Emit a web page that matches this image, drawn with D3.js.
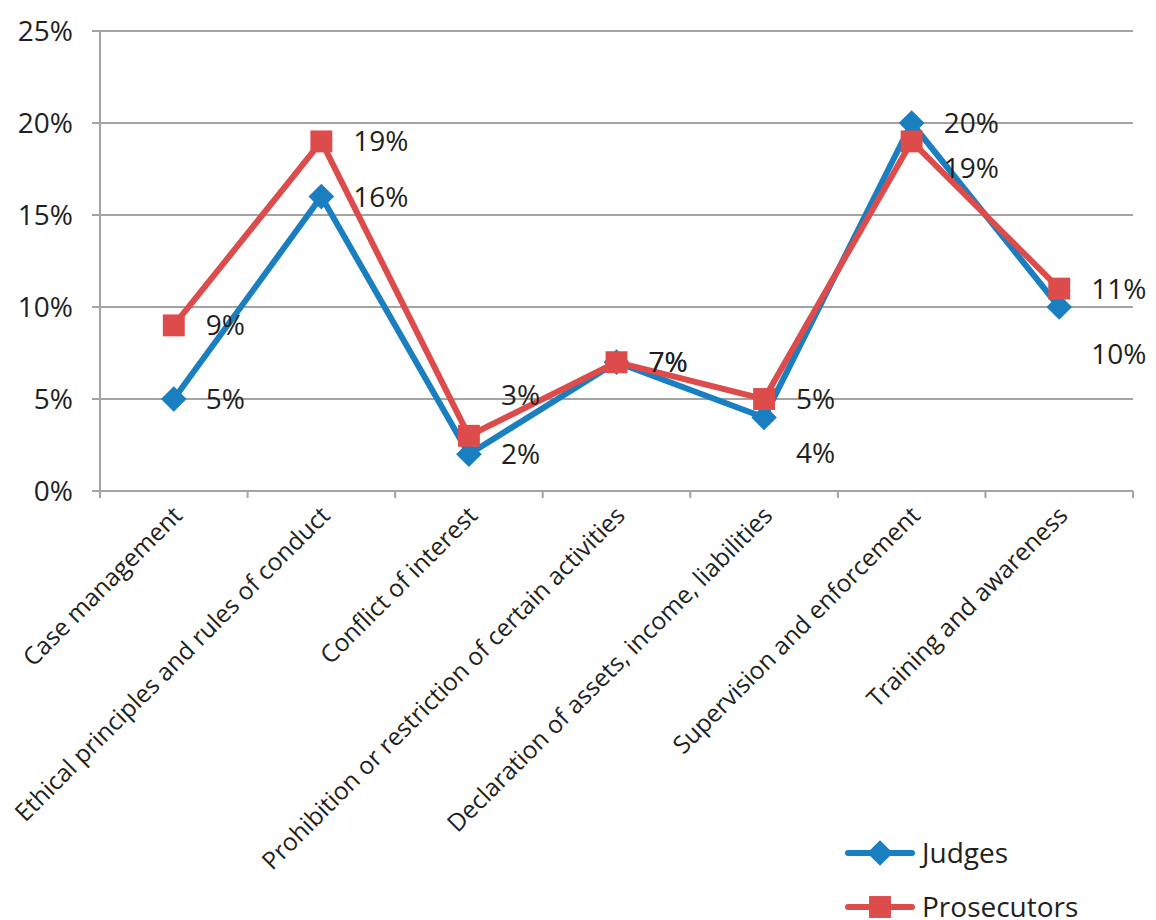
<!DOCTYPE html>
<html>
<head>
<meta charset="utf-8">
<script src="https://cdn.jsdelivr.net/npm/d3@7"></script>
<style>
  body { margin: 0; background: #fff; }
  text { font-family: "Open Sans", "Noto Sans", sans-serif; fill: #231f20; }
</style>
</head>
<body>
<svg id="chart"></svg>
<script>
// categories and values (percent)
const categories = [
    'Case management',
    'Ethical principles and rules of conduct',
    'Conflict of interest',
    'Prohibition or restriction of certain activities',
    'Declaration of assets, income, liabilities',
    'Supervision and enforcement',
    'Training and awareness'
];
const judges = [5, 16, 2, 7, 4, 20, 10];
const prosecutors = [9, 19, 3, 7, 5, 19, 11];
const yTicks = [0, 5, 10, 15, 20, 25];

// vertical nudges for the value labels, so they don't collide
const judgesNudge = [0, 0, 0, 0, 36, 0, 47];
const prosecutorsNudge = [0, 0, -41, 0, 0, 27, 0];

const width = 1156, height = 920;
const margin = { top: 31, right: 23, bottom: 429, left: 100 };
const plotW = width - margin.left - margin.right,
    plotH = height - margin.top - margin.bottom;

const blue = '#1a7fc1', red = '#dd4b4b', grid = '#a3a3a3';

const svg = d3.select('#chart')
    .attr('width', width)
    .attr('height', height);

const g = svg.append('g')
    .attr('transform', 'translate(' + margin.left + ',' + margin.top + ')');

const x = d3.scaleBand()
    .domain(categories)
    .range([0, plotW]);

const y = d3.scaleLinear()
    .domain([0, 25])
    .range([plotH, 0]);

// horizontal gridlines
g.selectAll('.grid')
    .data(yTicks)
    .enter()
    .append('line')
    .attr('x1', -8)
    .attr('x2', plotW)
    .attr('y1', d => y(d))
    .attr('y2', d => y(d))
    .attr('stroke', grid)
    .attr('stroke-width', 2);

// y axis line
g.append('line')
    .attr('x1', 0).attr('x2', 0)
    .attr('y1', 0).attr('y2', plotH + 7)
    .attr('stroke', grid)
    .attr('stroke-width', 2);

// tick marks between categories
g.selectAll('.xtick')
    .data(categories)
    .enter()
    .append('line')
    .attr('x1', d => x(d) + x.step())
    .attr('x2', d => x(d) + x.step())
    .attr('y1', plotH)
    .attr('y2', plotH + 7)
    .attr('stroke', grid)
    .attr('stroke-width', 2);

// y tick labels
g.selectAll('.ylabel')
    .data(yTicks)
    .enter()
    .append('text')
    .attr('x', -27)
    .attr('y', d => y(d))
    .attr('dy', '0.36em')
    .attr('text-anchor', 'end')
    .attr('font-size', 28)
    .text(d => d + '%');

// category labels, rotated
g.selectAll('.xlabel')
    .data(categories)
    .enter()
    .append('text')
    .attr('text-anchor', 'end')
    .attr('font-size', 24.5)
    .attr('transform', d => 'translate(' + (x(d) + x.bandwidth() / 2 + 10) + ',' + (plotH + 26) + ')rotate(-45)')
    .text(d => d);

const cx = d => x(d) + x.bandwidth() / 2;
const line = d3.line()
    .x(d => cx(d.cat))
    .y(d => y(d.v));

const series = [
    { name: 'Judges', values: judges, nudge: judgesNudge, color: blue, shape: d3.symbolDiamond2 },
    { name: 'Prosecutors', values: prosecutors, nudge: prosecutorsNudge, color: red, shape: d3.symbolSquare }
];

series.forEach(s => {
    const pts = s.values.map((v, i) => ({ cat: categories[i], v: v, nudge: s.nudge[i] }));

    g.append('path')
        .datum(pts)
        .attr('d', line)
        .attr('fill', 'none')
        .attr('stroke', s.color)
        .attr('stroke-width', 6)
        .attr('stroke-linejoin', 'round');

    g.selectAll(null)
        .data(pts)
        .enter()
        .append('path')
        .attr('d', d3.symbol().type(s.shape).size(s.shape === d3.symbolSquare ? 480 : 420))
        .attr('transform', d => 'translate(' + cx(d.cat) + ',' + y(d.v) + ')')
        .attr('fill', s.color);

    g.selectAll(null)
        .data(pts)
        .enter()
        .append('text')
        .attr('x', d => cx(d.cat) + 32)
        .attr('y', d => y(d.v) + d.nudge)
        .attr('dy', '0.36em')
        .attr('font-size', 28)
        .text(d => d.v + '%');
});

// legend
const legend = svg.append('g')
    .attr('transform', 'translate(848,853)');

series.forEach((s, i) => {
    const row = legend.append('g')
        .attr('transform', 'translate(0,' + (i * 54) + ')');
    row.append('line')
        .attr('x1', 0).attr('x2', 64)
        .attr('stroke', s.color)
        .attr('stroke-width', 6)
        .attr('stroke-linecap', 'round');
    row.append('path')
        .attr('d', d3.symbol().type(s.shape).size(s.shape === d3.symbolSquare ? 480 : 420))
        .attr('transform', 'translate(32,0)')
        .attr('fill', s.color);
    row.append('text')
        .attr('x', 74)
        .attr('dy', '0.36em')
        .attr('font-size', 28)
        .text(s.name);
});
</script>
</body>
</html>
